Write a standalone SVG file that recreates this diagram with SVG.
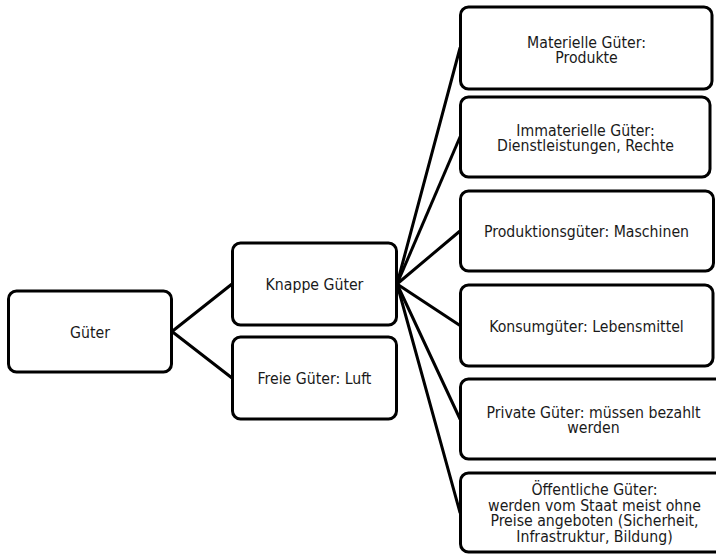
<svg xmlns="http://www.w3.org/2000/svg" width="716" height="555" viewBox="0 0 716 555">
<style>
.box{fill:#fff;stroke:#000;stroke-width:3}
.lbl{font-family:"DejaVu Sans Condensed","DejaVu Sans",sans-serif;font-stretch:condensed;font-size:15.7px;fill:#1a1a1a;text-anchor:middle}
.con{stroke:#000;stroke-width:3;fill:none;stroke-linecap:round}
</style>
<rect width="716" height="555" fill="#fff"/>
<g id="connectors">
<line class="con" x1="172" y1="331.5" x2="232" y2="284"/>
<line class="con" x1="172" y1="331.5" x2="232" y2="378"/>
<line class="con" x1="397" y1="284" x2="460" y2="48"/>
<line class="con" x1="397" y1="284" x2="460" y2="137"/>
<line class="con" x1="397" y1="284" x2="460" y2="231"/>
<line class="con" x1="397" y1="284" x2="460" y2="325.5"/>
<line class="con" x1="397" y1="284" x2="460" y2="419"/>
<line class="con" x1="397" y1="284" x2="460" y2="512.5"/>
</g>
<g id="gueter">
<rect class="box" x="8.5" y="291" width="163" height="81" rx="8"/>
<text class="lbl" x="90" y="337.5">Güter</text>
</g>
<g id="knappe">
<rect class="box" x="232.5" y="243" width="164" height="82" rx="8"/>
<text class="lbl" x="314.5" y="290">Knappe Güter</text>
</g>
<g id="freie">
<rect class="box" x="232.5" y="337" width="164" height="82" rx="8"/>
<text class="lbl" x="314.5" y="384">Freie Güter: Luft</text>
</g>
<g id="materielle">
<rect class="box" x="460.5" y="7" width="251.5" height="82" rx="8"/>
<text class="lbl" x="586.5" y="47.5">Materielle Güter:</text>
<text class="lbl" x="586.5" y="63">Produkte</text>
</g>
<g id="immaterielle">
<rect class="box" x="460.5" y="97" width="249.5" height="80" rx="8"/>
<text class="lbl" x="585.5" y="135.5">Immaterielle Güter:</text>
<text class="lbl" x="585.5" y="151">Dienstleistungen, Rechte</text>
</g>
<g id="produktion">
<rect class="box" x="460.5" y="191" width="253" height="80" rx="8"/>
<text class="lbl" x="586.5" y="237">Produktionsgüter: Maschinen</text>
</g>
<g id="konsum">
<rect class="box" x="460.5" y="285" width="252.5" height="81" rx="8"/>
<text class="lbl" x="586.5" y="331.5">Konsumgüter: Lebensmittel</text>
</g>
<g id="private">
<rect class="box" x="460.5" y="379" width="266" height="80" rx="8"/>
<text class="lbl" x="593.5" y="417.5">Private Güter: müssen bezahlt</text>
<text class="lbl" x="593.5" y="433">werden</text>
</g>
<g id="oeffentliche">
<rect class="box" x="460.5" y="473" width="266" height="79" rx="8"/>
<text class="lbl" x="594.5" y="495">Öffentliche Güter:</text>
<text class="lbl" x="594.5" y="510.7">werden vom Staat meist ohne</text>
<text class="lbl" x="594.5" y="526.4">Preise angeboten (Sicherheit,</text>
<text class="lbl" x="594.5" y="542">Infrastruktur, Bildung)</text>
</g>
</svg>
